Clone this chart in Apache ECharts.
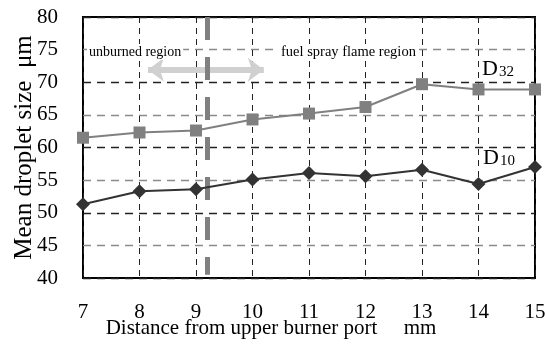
<!DOCTYPE html>
<html><head><meta charset="utf-8">
<script src="https://cdn.jsdelivr.net/npm/echarts@6/dist/echarts.min.js"></script>
<style>html,body{margin:0;padding:0;background:#fff}#c{width:545px;height:344px}</style>
</head><body><div id="c"></div>
<script>
const distances = [7, 8, 9, 10, 11, 12, 13, 14, 15];
const d32 = [61.5, 62.3, 62.6, 64.3, 65.2, 66.2, 69.7, 68.9, 68.9];
const d10 = [51.3, 53.3, 53.6, 55.1, 56.1, 55.6, 56.6, 54.4, 57.0];
const boundaryX = 9.2;
const arrowFrom = [8.15, 71.9];
const arrowTo = [10.2, 71.9];
const xTitle = 'Distance from upper burner port     mm';
const yTitle = 'Mean droplet size  μm';

const serif = '"Liberation Serif", "Times New Roman", serif';
const chart = echarts.init(document.getElementById('c'), null, {renderer: 'canvas'});
const pair = (xs, ys) => xs.map((x, i) => [x, ys[i]]);

chart.setOption({
  animation: false,
  backgroundColor: '#fff',
  grid: {left: 83, right: 10, top: 17, bottom: 66, containLabel: false, outerBoundsMode: 'none',
    show: true, borderColor: '#000', borderWidth: 2, backgroundColor: 'transparent'},
  xAxis: {
    type: 'value', min: 7, max: 15, interval: 1,
    name: xTitle, nameLocation: 'middle', nameGap: 40, nameMoveOverlap: false,
    nameTextStyle: {fontFamily: serif, fontSize: 21, color: '#000', padding: [0, 76, 0, 0]},
    axisLine: {show: false}, axisTick: {show: false},
    axisLabel: {fontFamily: serif, fontSize: 21, color: '#000', margin: 24},
    splitLine: {show: true, lineStyle: {color: '#222', width: 1, type: [6, 5]}}
  },
  yAxis: {
    type: 'value', min: 40, max: 80, interval: 5,
    name: yTitle, nameLocation: 'middle', nameGap: 46, nameRotate: 90, nameMoveOverlap: false,
    nameTextStyle: {fontFamily: serif, fontSize: 25, color: '#000'},
    axisLine: {show: false}, axisTick: {show: false},
    axisLabel: {fontFamily: serif, fontSize: 21, color: '#000', margin: 25},
    splitLine: {show: true, lineStyle: {color: ['#222', '#8a8a8a'], width: 1.3, type: [8, 6]}}
  },
  series: [
    {
      name: 'D32', type: 'line', data: pair(distances, d32),
      symbol: 'rect', symbolSize: 12, z: 5,
      lineStyle: {color: '#808080', width: 2}, itemStyle: {color: '#808080'},
      markLine: {
        silent: true, symbol: ['none', 'none'], label: {show: false}, z: 3,
        lineStyle: {color: '#808080', width: 5, type: [23, 17]},
        data: [[{coord: [boundaryX, 80]}, {coord: [boundaryX, 40.5]}]]
      }
    },
    {
      name: 'D10', type: 'line', data: pair(distances, d10),
      symbol: 'diamond', symbolSize: 14, z: 6,
      lineStyle: {color: '#333', width: 2}, itemStyle: {color: '#333'},
      markLine: {
        silent: true, symbol: ['arrow', 'arrow'], symbolSize: [18, 16], label: {show: false}, z: 2,
        lineStyle: {color: '#d0d0d0', width: 6, type: 'solid'}, itemStyle: {color: '#d0d0d0'},
        data: [[{coord: arrowFrom}, {coord: arrowTo}]]
      }
    }
  ],
  graphic: [
    {type: 'text', left: 87, top: 44, z: 10, style: {text: 'unburned region', fontFamily: serif, fontSize: 14, fill: '#000', backgroundColor: '#fff', padding: [1, 2]}},
    {type: 'text', left: 279, top: 44, z: 10, style: {text: 'fuel spray flame region', fontFamily: serif, fontSize: 14.5, fill: '#000', backgroundColor: '#fff', padding: [1, 2]}},
    {type: 'text', left: 482, top: 58, z: 10, style: {text: '{a|D}{b|32}', rich: {a: {fontFamily: serif, fontSize: 22, fill: '#000'}, b: {fontFamily: serif, fontSize: 15, fill: '#000', padding: [6, 0, 0, 1]}}}},
    {type: 'text', left: 483, top: 147, z: 10, style: {text: '{a|D}{b|10}', rich: {a: {fontFamily: serif, fontSize: 22, fill: '#000'}, b: {fontFamily: serif, fontSize: 15, fill: '#000', padding: [6, 0, 0, 1]}}}}
  ]
});
</script></body></html>
